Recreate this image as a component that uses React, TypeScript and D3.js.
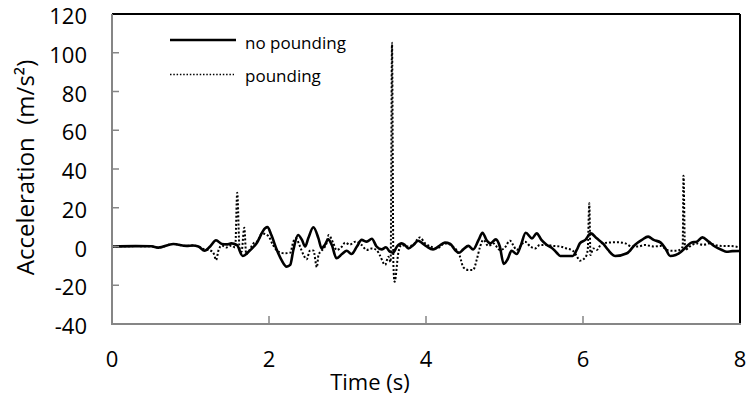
import React from "react";
import * as d3 from "d3";

const xTicks = [0, 2, 4, 6, 8];
const yTicks = [-40, -20, 0, 20, 40, 60, 80, 100, 120];

const noPoundingT = [0, 0.3, 0.5, 0.59, 0.78, 0.95, 1.03, 1.1, 1.18, 1.25, 1.325, 1.4, 1.46, 1.52, 1.59, 1.665, 1.74, 1.84, 1.95, 1.98, 2.03, 2.1, 2.16, 2.225, 2.27, 2.31, 2.37, 2.42, 2.46, 2.5, 2.565, 2.63, 2.67, 2.71, 2.755, 2.8, 2.86, 2.93, 2.99, 3.05, 3.12, 3.18, 3.245, 3.31, 3.37, 3.435, 3.49, 3.54, 3.58, 3.63, 3.69, 3.73, 3.775, 3.84, 3.9, 3.96, 4.01, 4.09, 4.16, 4.24, 4.31, 4.37, 4.42, 4.475, 4.54, 4.6, 4.67, 4.72, 4.77, 4.82, 4.89, 4.94, 4.99, 5.04, 5.09, 5.155, 5.21, 5.27, 5.35, 5.41, 5.47, 5.54, 5.6, 5.665, 5.71, 5.79, 5.87, 5.92, 5.96, 6.03, 6.1, 6.175, 6.26, 6.32, 6.41, 6.56, 6.66, 6.75, 6.83, 6.9, 6.99, 7.05, 7.11, 7.18, 7.25, 7.32, 7.38, 7.45, 7.52, 7.6, 7.68, 7.77, 7.83, 7.9, 8.0];
const noPoundingA = [0, 0.2, 0.1, -0.6, 1.3, 0.3, 0.5, 0, -2.2, 0, 3.2, 1.3, 1.1, 1.6, 0.8, -4.9, -2.7, 1.6, 9.4, 10, 5.9, -1.8, -7, -10.4, -9.5, -1.8, 5.9, 3.4, 0, 4.2, 9.9, 4.2, -1, 0.8, 3.7, 0.8, -6.1, -3.9, -2.2, -3.9, 0, 3.4, 2.5, 4.0, 0, -1.5, -0.4, -2.7, -3.2, 0, 1.6, 0.8, -1, 0.8, 3.0, 1.5, 0, -1.5, 0, 2, 1.3, -1.8, -3.2, -1.5, 0.3, -1.5, 3.4, 7.1, 3.4, 1.6, 3.7, 0, -9, -6.6, -2.2, -3.9, 0.8, 7.1, 4.2, 6.8, 3.4, 0.8, -0.6, -3.2, -4.9, -4.9, -4.9, -1.8, 1.6, 3.4, 6.8, 4.2, 1.3, -1.8, -4.9, -3.5, 0.8, 3.4, 5.1, 3.4, 2, -1, -4.9, -4.4, -2.7, 0, 2, 2.5, 4.7, 2.5, 0, -1.8, -2.7, -2.4, -2.3];

const poundingT = [0, 0.3, 0.5, 0.59, 0.78, 0.95, 1.03, 1.1, 1.18, 1.25, 1.3, 1.325, 1.36, 1.4, 1.46, 1.52, 1.57, 1.595, 1.625, 1.65, 1.685, 1.71, 1.75, 1.8, 1.86, 1.91, 1.99, 2.05, 2.12, 2.2, 2.27, 2.31, 2.34, 2.395, 2.44, 2.48, 2.52, 2.565, 2.61, 2.63, 2.67, 2.735, 2.76, 2.82, 2.86, 2.93, 2.97, 3.03, 3.1, 3.18, 3.245, 3.31, 3.37, 3.41, 3.48, 3.52, 3.55, 3.567, 3.585, 3.6, 3.65, 3.69, 3.76, 3.84, 3.9, 3.92, 3.99, 4.06, 4.14, 4.24, 4.37, 4.43, 4.475, 4.54, 4.6, 4.645, 4.69, 4.73, 4.795, 4.86, 4.94, 4.995, 5.07, 5.11, 5.155, 5.2, 5.26, 5.33, 5.39, 5.45, 5.54, 5.62, 5.71, 5.79, 5.87, 5.92, 5.96, 6.03, 6.06, 6.08, 6.095, 6.13, 6.175, 6.24, 6.32, 6.45, 6.54, 6.62, 6.7, 6.79, 6.9, 6.99, 7.07, 7.13, 7.2, 7.25, 7.27, 7.28, 7.3, 7.36, 7.45, 7.53, 7.61, 7.68, 7.77, 7.85, 7.94, 8.0];
const poundingA = [0, 0.2, 0.1, -0.6, 1.3, 0.3, 0.5, 0, -1.5, -2, -4, -7, -1.5, 0.5, -0.5, 0.5, -0.5, 27.8, -1, -2.7, 9.7, -4, -2, 1.5, 3, 6.8, 5.5, 0.8, -2.7, -3.5, -3.2, 2.5, 4.2, 0, -4.4, -6.6, -2.2, -2, -10.7, -4.4, -2.2, 2, 5.9, 1.6, -1.8, 0, 2, 1, 2.5, 0.8, -1.8, -1, -1.8, -4.4, -9.5, -5.3, -8, 105.2, -10, -18.2, -2.7, 0.8, 0, 0.8, 4.2, 4.7, 1.6, 0, -1, 1.6, -1, -4.9, -10.7, -12.1, -12.1, -7, 0, 3.4, 0.3, 1.6, -1.8, -1, 3, 0.8, -1.8, 0, 2.5, 0, -1, 0.8, 0.8, 0.3, 0, -1, -2.2, -4.9, -7.3, -5.6, -1.8, 22.3, -4.4, -1, -1.8, 1.6, 2, 2.2, 1.6, 0, 0, 0.8, 0, 0.3, -1.8, -2.2, -2.2, -1, 0, 36.5, -1.8, 0, 1.6, 0.8, 1.6, 0.8, 0.3, 0.3, 0, -0.5];

const seriesNames = ["no pounding", "pounding"];

const W = 747;
const H = 396;
const left = 112;
const right = 740;
const top = 14;
const bottom = 324;
const FONT = "'Open Sans', sans-serif";

export default function App() {
  const x = d3.scaleLinear().domain([0, 8]).range([left, right]);
  const y = d3.scaleLinear().domain([-40, 120]).range([bottom, top]);

  const line = d3
    .line<[number, number]>()
    .x((d) => x(d[0]))
    .y((d) => y(d[1]))
    .curve(d3.curveMonotoneX);

  const solidData: [number, number][] = noPoundingT.map((t, i) => [t, noPoundingA[i]]);
  const dotData: [number, number][] = poundingT.map((t, i) => [t, poundingA[i]]);

  const axisGray = "#868686";

  return (
    <svg
      width={W}
      height={H}
      style={{ position: "absolute", left: 0, top: 0, background: "#fff" }}
      fontFamily={FONT}
    >
      <rect x={0} y={0} width={W} height={H} fill="#fff" />
      {/* frame top/right */}
      <line x1={left} x2={right} y1={top} y2={top} stroke="#000" strokeWidth={2} />
      <line x1={right} x2={right} y1={top} y2={bottom} stroke="#000" strokeWidth={2} />

      {/* data */}
      <path d={line(dotData) || ""} fill="none" stroke="#000" strokeWidth={2} strokeDasharray="2 2" />
      <path d={line(solidData) || ""} fill="none" stroke="#000" strokeWidth={2.6} strokeLinejoin="round" />

      {/* axes */}
      <line x1={left} x2={left} y1={top} y2={bottom + 1} stroke={axisGray} strokeWidth={2} />
      <line x1={left - 1} x2={right + 1} y1={bottom} y2={bottom} stroke={axisGray} strokeWidth={2} />
      {yTicks.map((v) => (
        <g key={"y" + v}>
          {v > -40 && v < 120 && (
            <line x1={left} x2={left + 7} y1={y(v)} y2={y(v)} stroke={axisGray} strokeWidth={1.5} />
          )}
          <text x={87} y={y(v) + 10} textAnchor="end" fontSize={22} fill="#000">
            {v}
          </text>
        </g>
      ))}
      {xTicks.map((t) => (
        <g key={"x" + t}>
          {t > 0 && t < 8 && (
            <line x1={x(t)} x2={x(t)} y1={bottom} y2={bottom - 8} stroke={axisGray} strokeWidth={1.5} />
          )}
          <text x={x(t)} y={367} textAnchor="middle" fontSize={22} fill="#000">
            {t}
          </text>
        </g>
      ))}

      {/* axis titles */}
      <text x={370} y={390} textAnchor="middle" fontSize={22} fill="#000">
        Time (s)
      </text>
      <text
        transform={`translate(34,167.5) rotate(-90)`}
        textAnchor="middle"
        fontSize={24}
        fill="#000"
        style={{ whiteSpace: "pre" }}
      >
        {"Acceleration  (m/s²)"}
      </text>

      {/* legend */}
      <line x1={170} x2={236} y1={40} y2={40} stroke="#000" strokeWidth={2.5} />
      <text x={245} y={49} fontSize={17} fill="#000">
        {seriesNames[0]}
      </text>
      <line x1={170} x2={234} y1={74.5} y2={74.5} stroke="#000" strokeWidth={1.5} strokeDasharray="1.5 1.8" />
      <text x={245} y={82} fontSize={17} fill="#000">
        {seriesNames[1]}
      </text>
    </svg>
  );
}
